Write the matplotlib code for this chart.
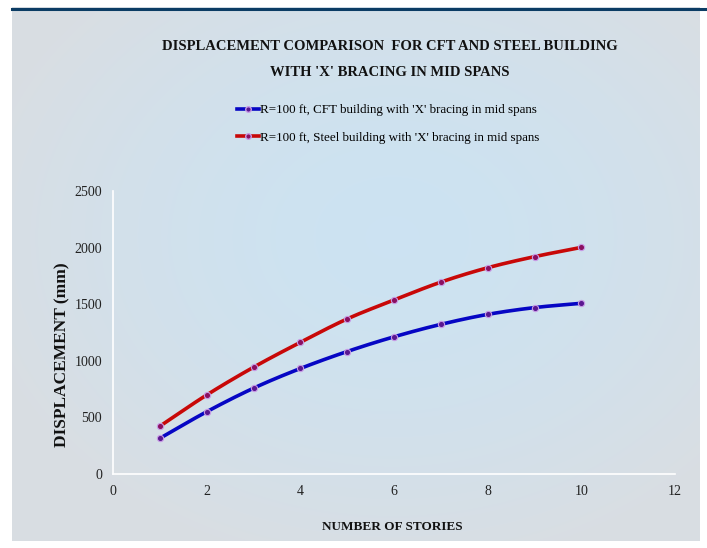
import numpy as np
import matplotlib
matplotlib.use("Agg")
import matplotlib.pyplot as plt
from matplotlib.lines import Line2D

# ---- data ----
stories = [1, 2, 3, 4, 5, 6, 7, 8, 9, 10]
cft_disp = [315, 550, 758, 932, 1082, 1212, 1322, 1410, 1470, 1508]
steel_disp = [422, 698, 943, 1163, 1370, 1537, 1695, 1822, 1920, 2002]
series_labels = ["R=100 ft, CFT building with 'X' bracing in mid spans",
                 "R=100 ft, Steel building with 'X' bracing in mid spans"]
title_lines = ["DISPLACEMENT COMPARISON  FOR CFT AND STEEL BUILDING",
               "WITH 'X' BRACING IN MID SPANS"]
xlabel_text = "NUMBER OF STORIES"
ylabel_text = "DISPLACEMENT (mm)"
xticks = [0, 2, 4, 6, 8, 10, 12]
yticks = [0, 500, 1000, 1500, 2000, 2500]

colors = ["#0606c4", "#c80808"]
marker_faces = ["#5a1890", "#8a1060"]
SERIF = "Liberation Serif"


def smooth(x, y, n=20):
    # Catmull-Rom style rendering of a smoothed line through the data points
    x = np.asarray(x, float)
    y = np.asarray(y, float)
    px = np.concatenate([[2 * x[0] - x[1]], x, [2 * x[-1] - x[-2]]])
    py = np.concatenate([[2 * y[0] - y[1]], y, [2 * y[-1] - y[-2]]])
    xs, ys = [], []
    for i in range(1, len(px) - 2):
        t = np.linspace(0, 1, n, endpoint=False)
        for arr, out in ((px, xs), (py, ys)):
            p0, p1, p2, p3 = arr[i - 1], arr[i], arr[i + 1], arr[i + 2]
            out.extend(0.5 * ((2 * p1) + (-p0 + p2) * t + (2 * p0 - 5 * p1 + 4 * p2 - p3) * t ** 2
                              + (-p0 + 3 * p1 - 3 * p2 + p3) * t ** 3))
    xs.append(x[-1])
    ys.append(y[-1])
    return np.array(xs), np.array(ys)


W, H = 707, 548
fig = plt.figure(figsize=(W / 100, H / 100), dpi=100)
fig.patch.set_facecolor("white")

# background panel with radial gradient
bg = fig.add_axes([12 / W, 7 / H, (700 - 12) / W, (541 - 7) / H])
bg.set_axis_off()
yy, xx = np.mgrid[0:534, 0:688]
cx, cy = 380, 230
r = np.sqrt(((xx - cx) / 420.0) ** 2 + ((yy - cy) / 330.0) ** 2)
r = np.clip(r, 0, 1)
c_in = np.array([0.80, 0.89, 0.95])
c_out = np.array([0.85, 0.87, 0.89])
img = c_in[None, None, :] * (1 - r[..., None] ** 1.5) + c_out[None, None, :] * (r[..., None] ** 1.5)
bg.imshow(img, aspect="auto", extent=[0, 1, 0, 1], origin="upper")
bg.set_xlim(0, 1)
bg.set_ylim(0, 1)
# dark top bar
fig.add_artist(Line2D([12 / W, 1.0], [1 - 8.5 / H, 1 - 8.5 / H], color="#0b3c64", lw=2.2,
                      transform=fig.transFigure))

ax = fig.add_axes([113 / W, 1 - 474 / H, (675 - 113) / W, (474 - 191) / H])
ax.patch.set_alpha(0)
for i, vals in enumerate([cft_disp, steel_disp]):
    sx, sy = smooth(stories, vals)
    ax.plot(sx, sy, color=colors[i], lw=2.6, solid_capstyle="round", zorder=3)
    ax.plot(stories, vals, ls="none", marker="o", ms=4.5, mfc=marker_faces[i],
            mec="#c89be6", mew=0.8, zorder=4)

ax.set_xlim(0, 12)
ax.set_ylim(0, 2500)
ax.set_xticks(xticks)
ax.set_yticks(yticks)
ax.tick_params(length=0, labelsize=10, colors="#222222", pad=8)
for t in ax.get_xticklabels() + ax.get_yticklabels():
    t.set_family(SERIF)
for s in ["top", "right"]:
    ax.spines[s].set_visible(False)
for s in ["left", "bottom"]:
    ax.spines[s].set_color("white")
    ax.spines[s].set_linewidth(1.2)

for k, line in enumerate(title_lines):
    fig.text(390 / W, 1 - (47 + 26 * k) / H, line, ha="center", va="center", family=SERIF,
             fontweight="bold", fontsize=10.5, color="#111111")
fig.text(62 / W, 1 - 355 / H, ylabel_text, rotation=90, ha="center", va="center", family=SERIF,
         fontweight="bold", fontsize=12.5, color="#111111")
fig.text(392 / W, 1 - 527 / H, xlabel_text, ha="center", va="center", family=SERIF,
         fontweight="bold", fontsize=9.5, color="#111111")

handles = [Line2D([], [], color=colors[i], lw=2.6, marker="o", ms=4,
                  mfc=marker_faces[i], mec="#c89be6") for i in range(2)]
fig.legend(handles, series_labels, loc="center", bbox_to_anchor=(388 / W, 1 - 124 / H),
           frameon=False, prop={"family": SERIF, "size": 9.4}, handlelength=1.7,
           handletextpad=0.1, labelspacing=1.15, ncol=1)

fig.savefig("out.png", dpi=100)
